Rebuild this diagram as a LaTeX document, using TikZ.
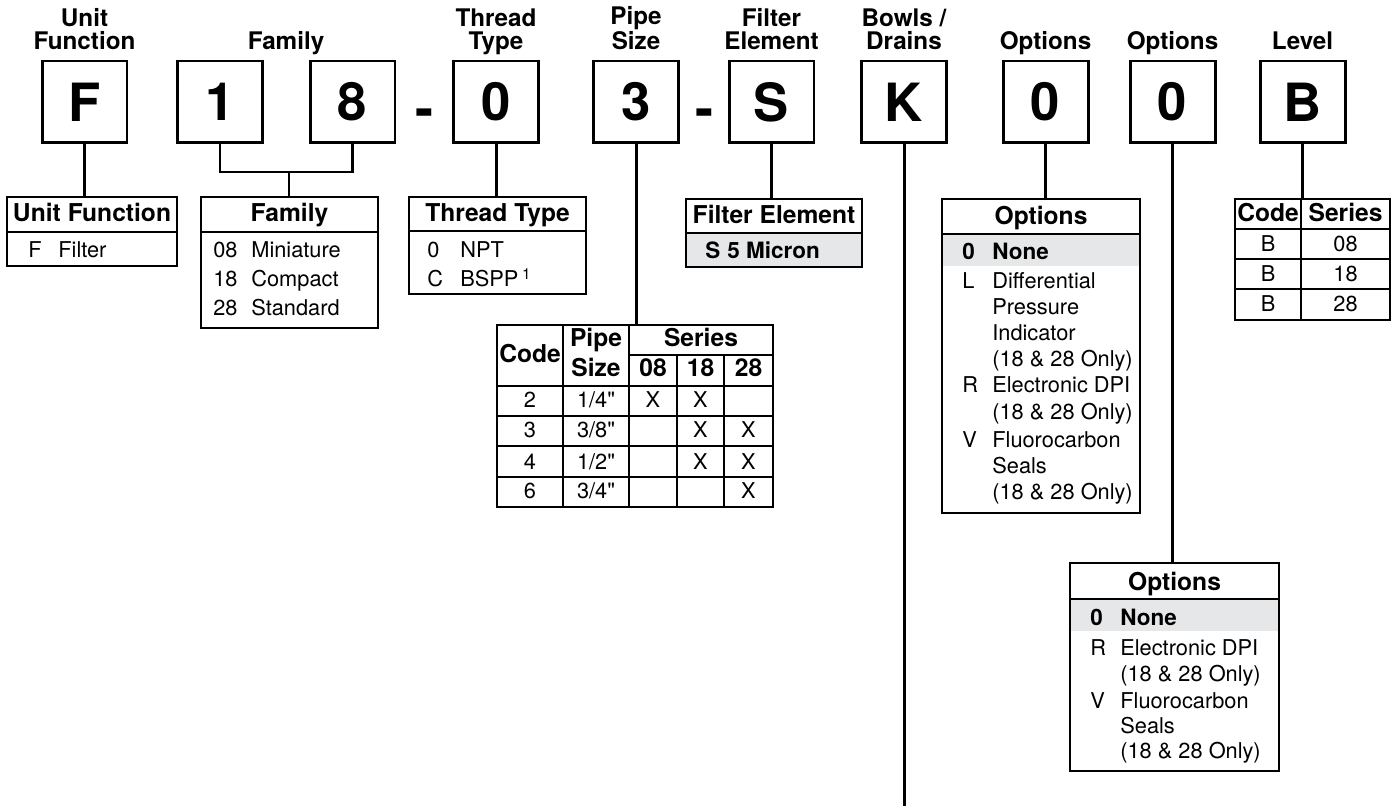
\documentclass[tikz,border=0pt]{standalone}
\usepackage{fontspec}
\setmainfont{TeX Gyre Heros}
\newfontfamily\plainheros{TeX Gyre Heros}[Ligatures=TeXOff]
\usepackage{xcolor}
\usepackage{tikz}

\definecolor{rowgray}{HTML}{E6E7E8}

\tikzset{
  codebox/.style = {draw, line width = 1.7pt, minimum width = 1.7cm, minimum height = 1.64cm, inner sep = 0pt, font = \fontsize{30}{30}\selectfont\bfseries},
  dashmark/.style = {anchor = base, inner sep = 0pt, font = \fontsize{31}{31}\selectfont\bfseries},
  toplabel/.style = {anchor = south, align = center, inner sep = 0pt, text depth = 0pt, font = \fontsize{13.8}{13}\selectfont\bfseries},
  link/.style = {line width = 1.7pt},
  boxframe/.style = {line width = 1.4pt},
  thinline/.style = {line width = 0.9pt},
  headtext/.style = {anchor = base, inner sep = 0pt, font = \fontsize{14}{14}\selectfont\bfseries},
  celltext/.style = {anchor = base, inner sep = 0pt, font = \fontsize{12.4}{12}\selectfont},
  itemtext/.style = {anchor = base west, inner sep = 0pt, font = \fontsize{12.4}{12}\selectfont},
  itembold/.style = {anchor = base west, inner sep = 0pt, font = \fontsize{12.8}{12}\selectfont\bfseries},
}

\newcommand{\inch}{{\plainheros"}}

\begin{document}
\begin{tikzpicture}[x = 0.02cm, y = -0.02cm]
    \useasboundingbox (0, 0) rectangle (1395, 810);

    % code boxes
    \node[codebox] (bF) at (84.5, 102) {F};
    \node[codebox] (b1) at (220, 102) {1};
    \node[codebox] (b8) at (352.5, 102) {8};
    \node[dashmark] (d1) at (424.5, 128) {-};
    \node[codebox] (b0) at (496, 102) {0};
    \node[codebox] (b3) at (636, 102) {3};
    \node[dashmark] (d2) at (704.5, 128) {-};
    \node[codebox] (bS) at (771.5, 102) {S};
    \node[codebox] (bK) at (904, 102) {K};
    \node[codebox] (bO1) at (1045.5, 102) {0};
    \node[codebox] (bO2) at (1172.5, 102) {0};
    \node[codebox] (bB) at (1302.5, 102) {B};

    % labels on top
    \node[toplabel] (lF) at (84.5, 50) {Unit\\Function};
    \node[toplabel] (lFam) at (286, 50) {Family};
    \node[toplabel] (l0) at (496, 50) {Thread\\Type};
    \node[toplabel] (l3) at (636, 50) {Pipe\\Size};
    \node[toplabel] (lS) at (771.5, 50) {Filter\\Element};
    \node[toplabel] (lK) at (904, 50) {Bowls /\\Drains};
    \node[toplabel] (lO1) at (1045.5, 50) {Options};
    \node[toplabel] (lO2) at (1172.5, 50) {Options};
    \node[toplabel] (lB) at (1302.5, 50) {Level};

    % unit function
    \coordinate (ufT) at (92, 197);
    \draw[link] (bF) -- (bF |- ufT);
    \draw[boxframe] (7, 197) rectangle (177, 266);
    \draw[boxframe] (7, 232) -- (177, 232);
    \node[headtext] (ufHead) at (92, 222) {Unit Function};
    \node[itemtext] (ufCode) at (28, 258) {F};
    \node[itemtext] (ufName) at (58, 258) {Filter};

    % family
    \coordinate (famJ) at (289, 172);
    \coordinate (famT) at (289, 197);
    \draw[link] (b1) |- (famJ) -| (b8);
    \draw[link] (famJ) -- (famT);
    \draw[boxframe] (201, 197) rectangle (378, 328);
    \draw[boxframe] (201, 232) -- (378, 232);
    \node[headtext] (famHead) at (289.5, 222) {Family};
    \node[itemtext] (fam08) at (213, 258) {08};
    \node[itemtext] (famMin) at (251, 258) {Miniature};
    \node[itemtext] (fam18) at (213, 287) {18};
    \node[itemtext] (famCom) at (251, 287) {Compact};
    \node[itemtext] (fam28) at (213, 316) {28};
    \node[itemtext] (famStd) at (251, 316) {Standard};

    % thread type
    \coordinate (ttT) at (496, 197);
    \draw[link] (b0) -- (ttT);
    \draw[boxframe] (409, 197) rectangle (586, 294);
    \draw[boxframe] (409, 231) -- (586, 231);
    \node[headtext] (ttHead) at (497.5, 222) {Thread Type};
    \node[itemtext] (tt0) at (427, 258) {0};
    \node[itemtext] (ttNpt) at (460, 258) {NPT};
    \node[itemtext] (ttC) at (427, 287) {C};
    \node[itemtext] (ttBspp) at (460, 287) {BSPP\,\textsuperscript{1}};

    % pipe size
    \coordinate (psT) at (636, 325);
    \draw[link] (b3) -- (psT);
    \draw[thinline] (563, 325) -- (563, 507);
    \draw[thinline] (629, 325) -- (629, 507);
    \draw[thinline] (677, 355) -- (677, 507);
    \draw[thinline] (724, 355) -- (724, 507);
    \draw[thinline] (629, 355) -- (773, 355);
    \draw[thinline] (497, 386) -- (773, 386);
    \draw[thinline] (497, 416) -- (773, 416);
    \draw[thinline] (497, 446) -- (773, 446);
    \draw[thinline] (497, 477) -- (773, 477);
    \draw[boxframe] (497, 325) rectangle (773, 507);
    \node[headtext] (psCode) at (530, 363) {Code};
    \node[headtext] (psPipe) at (596, 347) {Pipe};
    \node[headtext] (psSize) at (596, 377) {Size};
    \node[headtext] (psSeries) at (701, 347) {Series};
    \node[headtext] (ps08) at (653, 377) {08};
    \node[headtext] (ps18) at (700.5, 377) {18};
    \node[headtext] (ps28) at (748.5, 377) {28};
    \node[celltext] (r2c) at (530, 408) {2};
    \node[celltext] (r2s) at (596, 408) {1/4\inch};
    \node[celltext] (r2a) at (653, 408) {X};
    \node[celltext] (r2b) at (700.5, 408) {X};
    \node[celltext] (r3c) at (530, 438) {3};
    \node[celltext] (r3s) at (596, 438) {3/8\inch};
    \node[celltext] (r3b) at (700.5, 438) {X};
    \node[celltext] (r3d) at (748.5, 438) {X};
    \node[celltext] (r4c) at (530, 469) {4};
    \node[celltext] (r4s) at (596, 469) {1/2\inch};
    \node[celltext] (r4b) at (700.5, 469) {X};
    \node[celltext] (r4d) at (748.5, 469) {X};
    \node[celltext] (r6c) at (530, 498) {6};
    \node[celltext] (r6s) at (596, 498) {3/4\inch};
    \node[celltext] (r6d) at (748.5, 498) {X};

    % filter element
    \coordinate (feT) at (771.5, 199);
    \draw[link] (bS) -- (feT);
    \fill[rowgray] (686, 233) rectangle (862, 267);
    \draw[boxframe] (686, 199) rectangle (862, 267);
    \draw[boxframe] (686, 233) -- (862, 233);
    \node[headtext] (feHead) at (774, 224) {Filter Element};
    \node[itembold] (feCode) at (705, 259) {S};
    \node[itembold] (feName) at (727, 259) {5 Micron};

    % bowls / drains
    \coordinate (bdEnd) at (904, 806);
    \draw[link] (bK) -- (bdEnd);

    % options (first)
    \coordinate (o1T) at (1045.5, 199);
    \draw[link] (bO1) -- (o1T);
    \fill[rowgray] (942, 234) rectangle (1140, 266);
    \draw[boxframe] (942, 199) rectangle (1140, 513);
    \draw[boxframe] (942, 234) -- (1140, 234);
    \node[headtext] (o1Head) at (1041, 225) {Options};
    \node[itembold] (o1c0) at (962, 260) {0};
    \node[itembold] (o1t0) at (992, 260) {None};
    \node[itemtext] (o1cL) at (962, 289) {L};
    \node[itemtext] (o1tL1) at (992, 289) {Differential};
    \node[itemtext] (o1tL2) at (992, 315) {Pressure};
    \node[itemtext] (o1tL3) at (992, 341) {Indicator};
    \node[itemtext] (o1tL4) at (992, 367) {(18 \& 28 Only)};
    \node[itemtext] (o1cR) at (962, 393) {R};
    \node[itemtext] (o1tR1) at (992, 393) {Electronic DPI};
    \node[itemtext] (o1tR2) at (992, 419) {(18 \& 28 Only)};
    \node[itemtext] (o1cV) at (962, 447) {V};
    \node[itemtext] (o1tV1) at (992, 447) {Fluorocarbon};
    \node[itemtext] (o1tV2) at (992, 473) {Seals};
    \node[itemtext] (o1tV3) at (992, 499) {(18 \& 28 Only)};

    % options (second)
    \coordinate (o2T) at (1172.5, 563);
    \draw[link] (bO2) -- (o2T);
    \fill[rowgray] (1070, 599) rectangle (1279, 631);
    \draw[boxframe] (1070, 563) rectangle (1279, 771);
    \draw[boxframe] (1070, 599) -- (1279, 599);
    \node[headtext] (o2Head) at (1174.5, 590) {Options};
    \node[itembold] (o2c0) at (1090, 625) {0};
    \node[itembold] (o2t0) at (1120, 625) {None};
    \node[itemtext] (o2cR) at (1090, 655) {R};
    \node[itemtext] (o2tR1) at (1120, 655) {Electronic DPI};
    \node[itemtext] (o2tR2) at (1120, 681) {(18 \& 28 Only)};
    \node[itemtext] (o2cV) at (1090, 708) {V};
    \node[itemtext] (o2tV1) at (1120, 708) {Fluorocarbon};
    \node[itemtext] (o2tV2) at (1120, 733) {Seals};
    \node[itemtext] (o2tV3) at (1120, 758) {(18 \& 28 Only)};

    % level
    \coordinate (lvT) at (1302.5, 199);
    \draw[link] (bB) -- (lvT);
    \draw[thinline] (1301, 199) -- (1301, 320);
    \draw[thinline] (1235, 229) -- (1390, 229);
    \draw[thinline] (1235, 259) -- (1390, 259);
    \draw[thinline] (1235, 289) -- (1390, 289);
    \draw[boxframe] (1235, 199) rectangle (1390, 320);
    \node[headtext] (lvCode) at (1268, 222) {Code};
    \node[headtext] (lvSeries) at (1345.5, 222) {Series};
    \node[celltext] (lvB1) at (1268, 252) {B};
    \node[celltext] (lvS1) at (1345.5, 252) {08};
    \node[celltext] (lvB2) at (1268, 282) {B};
    \node[celltext] (lvS2) at (1345.5, 282) {18};
    \node[celltext] (lvB3) at (1268, 312) {B};
    \node[celltext] (lvS3) at (1345.5, 312) {28};
\end{tikzpicture}
\end{document}
